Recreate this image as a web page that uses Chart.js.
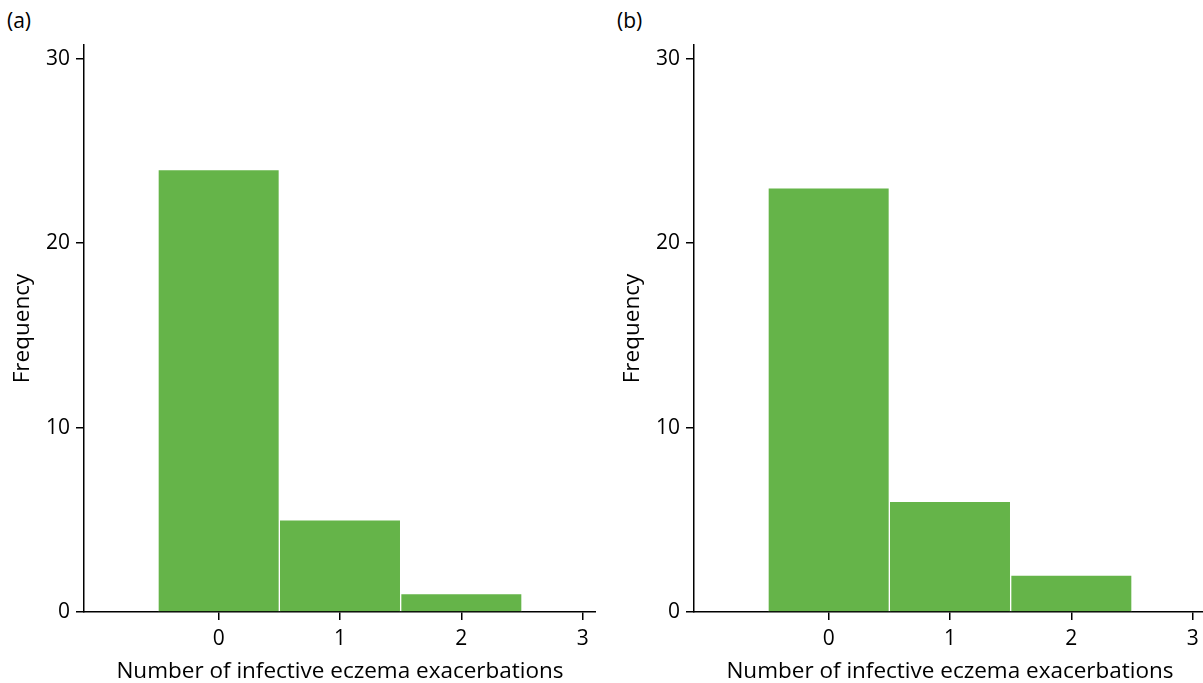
<!DOCTYPE html>
<html>
<head>
<meta charset="utf-8">
<script src="https://cdn.jsdelivr.net/npm/chart.js@4"></script>
<style>
  html, body { margin: 0; padding: 0; background: #fff; overflow: hidden; }
  body { width: 1203px; height: 683px; position: relative; font-family: "Open Sans", sans-serif; }
  .panel { position: absolute; top: 0; height: 683px; }
  .tag { position: absolute; top: 7px; font-size: 21px; color: #000; line-height: 26px; }
</style>
</head>
<body>
<div class="tag" style="left:7px">(a)</div>
<div class="tag" style="left:617px">(b)</div>
<div class="panel" style="left:0; width:596px"><canvas id="chartA"></canvas></div>
<div class="panel" style="left:610px; width:596px"><canvas id="chartB"></canvas></div>
<script>
// Number of exacerbations (bin centres) and frequencies per group
const exacerbations = [0, 1, 2];
const frequencyA = [24, 5, 1];
const frequencyB = [23, 6, 2];
const xTickValues = [0, 1, 2, 3];
const yTickValues = [0, 10, 20, 30];
const xTitle = 'Number of infective eczema exacerbations';
const yTitle = 'Frequency';

const TICK_FONT = { family: '"Open Sans", sans-serif', size: 21 };
const TITLE_FONT = { family: '"Open Sans", sans-serif', size: 22.5 };
const BAR_GREEN = '#65B449';

function buildChart(canvasId, freq, width) {
  const canvas = document.getElementById(canvasId);
  canvas.width = width;
  canvas.height = 683;
  canvas.style.width = width + 'px';
  canvas.style.height = '683px';
  const points = exacerbations.map((x, i) => ({ x: x, y: freq[i] }));
  return new Chart(canvas, {
    type: 'bar',
    data: {
      datasets: [{
        data: points,
        backgroundColor: BAR_GREEN,
        borderColor: '#ffffff',
        borderWidth: 1,
        borderSkipped: 'start',
        barPercentage: 1,
        categoryPercentage: 1
      }]
    },
    options: {
      responsive: false,
      animation: false,
      events: [],
      layout: { padding: { top: 45, left: 0, right: 0, bottom: 0 } },
      plugins: { legend: { display: false }, tooltip: { enabled: false } },
      scales: {
        x: {
          type: 'linear',
          min: -1.11,
          max: 3.11,
          offset: false,
          z: 1,
          afterBuildTicks: s => { s.ticks = xTickValues.map(v => ({ value: v })); },
          afterFit: s => { s.height = 71; },
          grid: { display: true, offset: false, drawOnChartArea: false, drawTicks: true, tickLength: 8, color: '#000', lineWidth: 1.5 },
          border: { display: true, color: '#000', width: 1.5 },
          ticks: { color: '#000', font: TICK_FONT, padding: 6, maxRotation: 0, autoSkip: false },
          title: { display: true, text: xTitle, color: '#000', font: TITLE_FONT, padding: { top: 0, bottom: -2 } }
        },
        y: {
          type: 'linear',
          min: 0,
          max: 30.75,
          z: 1,
          afterBuildTicks: s => { s.ticks = yTickValues.map(v => ({ value: v })); },
          afterFit: s => { s.width = 84; },
          grid: { display: true, drawOnChartArea: false, drawTicks: true, tickLength: 8, color: '#000', lineWidth: 1.5 },
          border: { display: true, color: '#000', width: 1.5 },
          ticks: { color: '#000', font: TICK_FONT, padding: 6 },
          title: { display: true, text: yTitle, color: '#000', font: TITLE_FONT, padding: { top: 9, bottom: 0 } }
        }
      }
    }
  });
}

buildChart('chartA', frequencyA, 596);
buildChart('chartB', frequencyB, 596);
</script>
</body>
</html>
